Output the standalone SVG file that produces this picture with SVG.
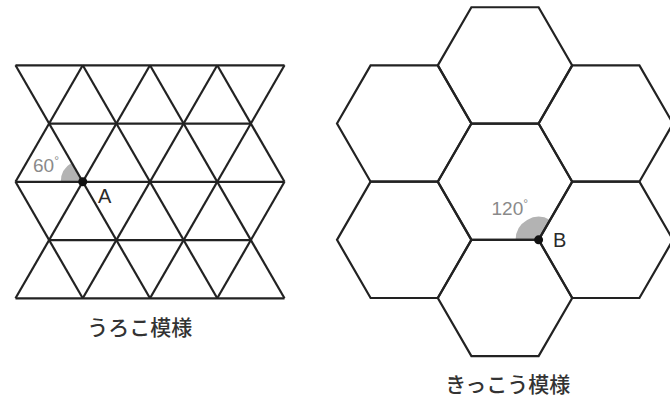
<svg xmlns="http://www.w3.org/2000/svg" width="670" height="401" viewBox="0 0 670 401">
<style>
.ln{stroke:#222;stroke-width:2.2;fill:none;stroke-linejoin:miter;stroke-linecap:butt}
.wedge{fill:#b3b3b3;stroke:none}
.ang{font-family:"Liberation Sans",Arial,sans-serif;font-size:19px;fill:#8a8a8a}
.deg{font-family:"Liberation Sans",Arial,sans-serif;font-size:12px;fill:#8a8a8a}
.pt{font-family:"Liberation Sans",Arial,sans-serif;font-size:20px;fill:#2a2a2a}
.cap{font-family:"Noto Sans CJK JP","Noto Sans",sans-serif;font-size:21px;font-weight:500;fill:#333;text-anchor:middle}
.dot{fill:#111}
</style>
<rect width="670" height="401" fill="#fff"/>
<g id="uroko">
  <path class="wedge" d="M82.75,181.8 L60.75,181.8 A22,22 0 0,1 71.75,162.75 Z"/>
  <g id="uroko-lines" class="ln">
    <line x1="15.5" y1="65.3" x2="284.5" y2="65.3"/>
    <line x1="49.125" y1="123.55" x2="250.875" y2="123.55"/>
    <line x1="15.5" y1="181.8" x2="284.5" y2="181.8"/>
    <line x1="49.125" y1="240.05" x2="250.875" y2="240.05"/>
    <line x1="15.5" y1="298.3" x2="284.5" y2="298.3"/>
    <line x1="15.5" y1="65.3" x2="150" y2="298.3"/>
    <line x1="82.75" y1="65.3" x2="217.25" y2="298.3"/>
    <line x1="150" y1="65.3" x2="284.5" y2="298.3"/>
    <line x1="217.25" y1="65.3" x2="284.5" y2="181.8"/>
    <line x1="15.5" y1="181.8" x2="82.75" y2="298.3"/>
    <line x1="150" y1="65.3" x2="15.5" y2="298.3"/>
    <line x1="217.25" y1="65.3" x2="82.75" y2="298.3"/>
    <line x1="284.5" y1="65.3" x2="150" y2="298.3"/>
    <line x1="82.75" y1="65.3" x2="15.5" y2="181.8"/>
    <line x1="284.5" y1="181.8" x2="217.25" y2="298.3"/>
  </g>
  <circle class="dot" cx="82.75" cy="181.8" r="4.5"/>
  <text class="ang" x="33" y="171.5">60<tspan class="deg" dy="-7">°</tspan></text>
  <text class="pt" x="98" y="203">A</text>
  <text class="cap" x="139.7" y="335">うろこ模様</text>
</g>
<g id="kikkou">
  <path class="wedge" d="M538.6,239.85 L515.6,239.85 A23,23 0 0,1 550.1,219.93 Z"/>
  <g id="kikkou-lines" class="ln">
    <polygon id="hex-c" points="437.8,181.7 471.4,123.55 538.6,123.55 572.2,181.7 538.6,239.85 471.4,239.85"/>
    <polygon id="hex-t" points="437.8,65.4 471.4,7.25 538.6,7.25 572.2,65.4 538.6,123.55 471.4,123.55"/>
    <polygon id="hex-b" points="437.8,298 471.4,239.85 538.6,239.85 572.2,298 538.6,356.15 471.4,356.15"/>
    <polygon id="hex-ul" points="337,123.55 370.6,65.4 437.8,65.4 471.4,123.55 437.8,181.7 370.6,181.7"/>
    <polygon id="hex-ll" points="337,239.85 370.6,181.7 437.8,181.7 471.4,239.85 437.8,298 370.6,298"/>
    <polygon id="hex-ur" points="538.6,123.55 572.2,65.4 639.4,65.4 673,123.55 639.4,181.7 572.2,181.7"/>
    <polygon id="hex-lr" points="538.6,239.85 572.2,181.7 639.4,181.7 673,239.85 639.4,298 572.2,298"/>
  </g>
  <circle class="dot" cx="538.6" cy="239.85" r="4.5"/>
  <text class="ang" x="491.5" y="215">120<tspan class="deg" dy="-7">°</tspan></text>
  <text class="pt" x="553" y="247">B</text>
  <text class="cap" x="507.8" y="392">きっこう模様</text>
</g>
</svg>
